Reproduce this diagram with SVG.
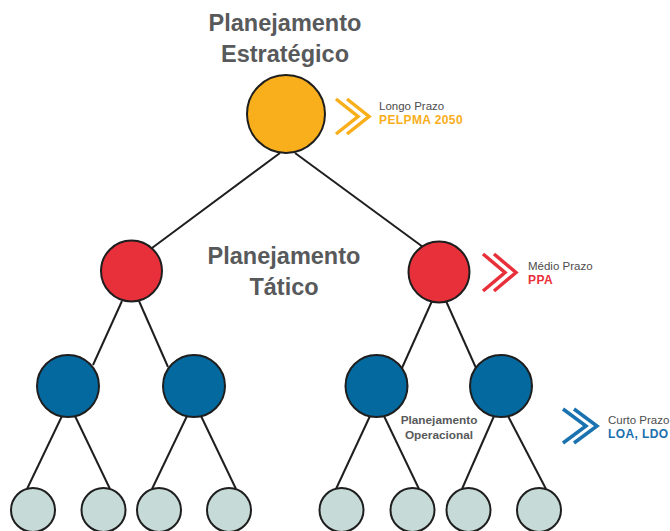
<svg xmlns="http://www.w3.org/2000/svg" width="670" height="531" viewBox="0 0 670 531">
<style>
.title{font-family:"Liberation Sans",Arial,sans-serif;font-weight:bold;font-size:23.5px;fill:#58595b;text-anchor:middle}
.small{font-family:"Liberation Sans",Arial,sans-serif;font-weight:bold;font-size:11.8px;fill:#58595b;text-anchor:middle}
.lbl{font-family:"Liberation Sans",Arial,sans-serif;font-size:11.5px;fill:#4d4d4d}
.lblb{font-family:"Liberation Sans",Arial,sans-serif;font-weight:bold;font-size:12px;letter-spacing:0.4px}
.node{stroke:#1e1e1e;stroke-width:2}
.c0{fill:#f9ae1b}.c1{fill:#e8303a}.c2{fill:#04699f}.c3{fill:#c6dad8}
.conn line{stroke:#1e1e1e;stroke-width:2}
.chev{fill:none;stroke-width:3.5}
</style>
<rect width="670" height="531" fill="#fff"/>
<g id="connectors" class="conn">
<line x1="280" y1="153" x2="152" y2="248"/>
<line x1="295" y1="153" x2="423" y2="247"/>
<line x1="122" y1="301" x2="93" y2="365"/>
<line x1="139" y1="301" x2="168" y2="367"/>
<line x1="432" y1="301" x2="402" y2="368"/>
<line x1="446" y1="301" x2="476" y2="368"/>
<line x1="62" y1="416" x2="27" y2="489"/>
<line x1="75" y1="416" x2="110" y2="489"/>
<line x1="187" y1="416" x2="152" y2="489"/>
<line x1="201" y1="416" x2="236" y2="489"/>
<line x1="370" y1="416" x2="336" y2="489"/>
<line x1="384" y1="416" x2="419" y2="489"/>
<line x1="494" y1="416" x2="462" y2="489"/>
<line x1="508" y1="416" x2="546" y2="489"/>
</g>
<g id="title-estrategico">
<text class="title" x="285" y="31">Planejamento</text>
<text class="title" x="285" y="62">Estratégico</text>
</g>
<g id="title-tatico">
<text class="title" x="284" y="264">Planejamento</text>
<text class="title" x="284" y="295">Tático</text>
</g>
<g id="title-operacional">
<text class="small" x="439" y="424">Planejamento</text>
<text class="small" x="439" y="439">Operacional</text>
</g>
<g id="n-estrategico"><circle class="node c0" cx="286" cy="114" r="39"/></g>
<g id="n-tatico-1"><circle class="node c1" cx="131.5" cy="271" r="30.5"/></g>
<g id="n-tatico-2"><circle class="node c1" cx="439" cy="272" r="30.5"/></g>
<g id="n-op-1"><circle class="node c2" cx="68" cy="386" r="31"/></g>
<g id="n-op-2"><circle class="node c2" cx="194" cy="386" r="31"/></g>
<g id="n-op-3"><circle class="node c2" cx="376.5" cy="386" r="31"/></g>
<g id="n-op-4"><circle class="node c2" cx="501" cy="386" r="31"/></g>
<g id="n-leaf-1"><circle class="node c3" cx="33" cy="510" r="22"/></g>
<g id="n-leaf-2"><circle class="node c3" cx="103.5" cy="510" r="22"/></g>
<g id="n-leaf-3"><circle class="node c3" cx="159" cy="510" r="22"/></g>
<g id="n-leaf-4"><circle class="node c3" cx="229" cy="510" r="22"/></g>
<g id="n-leaf-5"><circle class="node c3" cx="341.5" cy="510" r="22"/></g>
<g id="n-leaf-6"><circle class="node c3" cx="412.5" cy="510" r="22"/></g>
<g id="n-leaf-7"><circle class="node c3" cx="468.5" cy="510" r="22"/></g>
<g id="n-leaf-8"><circle class="node c3" cx="539" cy="510" r="22"/></g>
<g id="label-longo">
<polyline class="chev" stroke="#f9ae1b" points="336,99 358,116.5 336,134"/>
<polyline class="chev" stroke="#f9ae1b" points="347,99 369,116.5 347,134"/>
<text class="lbl" x="379" y="110">Longo Prazo</text>
<text class="lblb" x="379" y="124" fill="#f9ae1b">PELPMA 2050</text>
</g>
<g id="label-medio">
<polyline class="chev" stroke="#e8303a" points="483,254 505,272.5 483,291"/>
<polyline class="chev" stroke="#e8303a" points="494,254 516,272.5 494,291"/>
<text class="lbl" x="528" y="270">Médio Prazo</text>
<text class="lblb" x="528" y="284" fill="#e8303a">PPA</text>
</g>
<g id="label-curto">
<polyline class="chev" stroke="#1a72b0" points="563,409 586,426 563,443"/>
<polyline class="chev" stroke="#1a72b0" points="574,409 597,426 574,443"/>
<text class="lbl" x="608" y="424">Curto Prazo</text>
<text class="lblb" x="608" y="438" fill="#1a6fae">LOA, LDO</text>
</g>
</svg>
